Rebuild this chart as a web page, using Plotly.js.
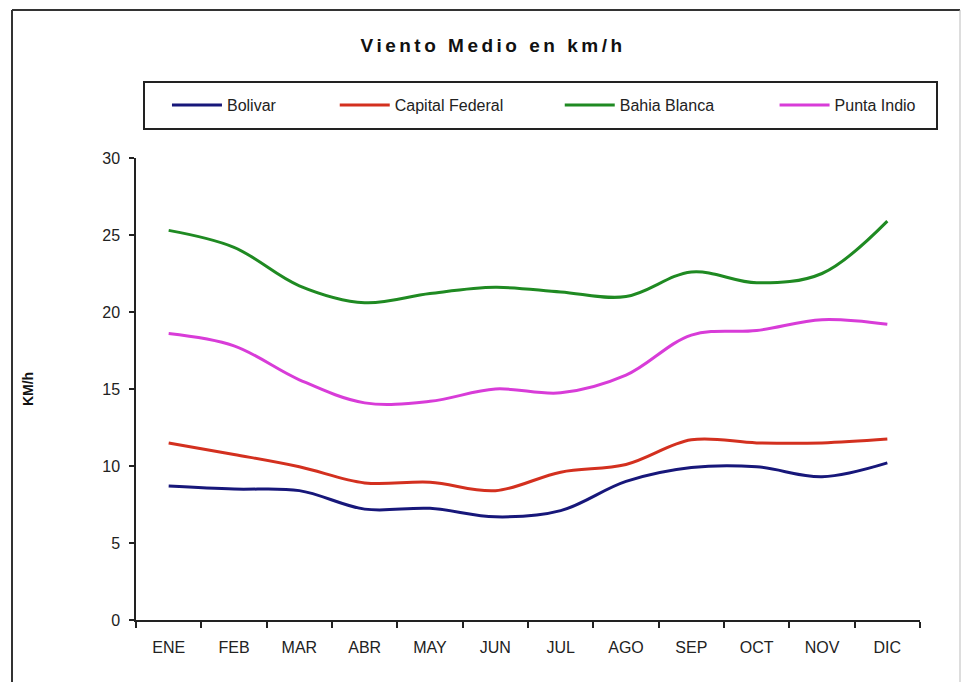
<!DOCTYPE html>
<html>
<head>
<meta charset="utf-8">
<script src="https://cdn.plot.ly/plotly-3.0.1.min.js"></script>
<style>
  html, body { margin: 0; padding: 0; background: #fff; }
  #chart { width: 963px; height: 682px; }
  .gtitle { letter-spacing: 3.5px; }
</style>
</head>
<body>
<div id="chart"></div>
<script>
// ---- data ----
const months = ["ENE", "FEB", "MAR", "ABR", "MAY", "JUN", "JUL", "AGO", "SEP", "OCT", "NOV", "DIC"];
const bolivar        = [8.7, 8.5, 8.4, 7.2, 7.25, 6.7, 7.1, 9.0, 9.9, 9.95, 9.3, 10.2];
const capitalFederal = [11.5, 10.75, 9.95, 8.9, 8.95, 8.4, 9.6, 10.1, 11.7, 11.5, 11.5, 11.75];
const bahiaBlanca    = [25.3, 24.2, 21.7, 20.6, 21.2, 21.6, 21.3, 21.0, 22.6, 21.9, 22.5, 25.9];
const puntaIndio     = [18.6, 17.8, 15.6, 14.1, 14.2, 15.0, 14.75, 15.9, 18.5, 18.8, 19.5, 19.2];
const seriesNames  = ["Bolivar", "Capital Federal", "Bahia Blanca", "Punta Indio"];
const seriesColors = ["#17177a", "#d3301f", "#1f8a22", "#d83cd8"];

const seriesData = [bolivar, capitalFederal, bahiaBlanca, puntaIndio];
const legendIds = ["legend", "legend2", "legend3", "legend4"];

const traces = seriesData.map((vals, i) => ({
  type: "scatter",
  mode: "lines",
  x: months,
  y: vals,
  name: seriesNames[i],
  legend: legendIds[i],
  line: { color: seriesColors[i], width: 3, shape: "spline", smoothing: 1 },
  hoverinfo: "x+y+name"
}));

const FONT = "Liberation Sans, Arial, sans-serif";
const legendXs = [0.0395, 0.2535, 0.5405, 0.8145];
const legendFont = { family: FONT, size: 16, color: "#222" };

const layout = {
  width: 963,
  height: 682,
  margin: { l: 136, r: 43, t: 158, b: 62 },
  paper_bgcolor: "#ffffff",
  plot_bgcolor: "#ffffff",
  title: {
    text: "<b>Viento Medio en km/h</b>",
    font: { family: FONT, size: 19, color: "#111" },
    x: 0.512, xref: "container", xanchor: "center",
    y: 0.934, yref: "container", yanchor: "middle"
  },
  xaxis: {
    type: "category",
    range: [-0.5, 11.5],
    showgrid: false,
    zeroline: false,
    showline: true,
    linecolor: "#222",
    linewidth: 1.5,
    ticks: "outside",
    tickson: "boundaries",
    ticklen: 6,
    tickcolor: "#222",
    tickwidth: 1.5,
    ticklabelstandoff: 12,
    tickfont: { family: FONT, size: 16, color: "#222" },
    fixedrange: true
  },
  yaxis: {
    range: [0, 30],
    dtick: 5,
    tick0: 0,
    showgrid: false,
    zeroline: false,
    showline: true,
    linecolor: "#222",
    linewidth: 1.5,
    ticks: "outside",
    ticklen: 5,
    tickcolor: "#222",
    tickwidth: 1.5,
    ticklabelstandoff: 6,
    tickfont: { family: FONT, size: 16, color: "#222" },
    title: {
      text: "<b>KM/h</b>",
      font: { family: FONT, size: 14, color: "#111" },
      standoff: 65
    },
    automargin: false,
    fixedrange: true
  },
  shapes: [
    // outer frame: top, left (dark), right (light)
    { type: "line", xref: "paper", yref: "paper",
      x0: (12 - 136) / 784, x1: (960 - 136) / 784,
      y0: (620 - 10) / 462, y1: (620 - 10) / 462,
      line: { color: "#333", width: 2 }, layer: "below" },
    { type: "line", xref: "paper", yref: "paper",
      x0: (12 - 136) / 784, x1: (12 - 136) / 784,
      y0: (620 - 10) / 462, y1: (620 - 700) / 462,
      line: { color: "#333", width: 2 }, layer: "below" },
    { type: "line", xref: "paper", yref: "paper",
      x0: (960 - 136) / 784, x1: (960 - 136) / 784,
      y0: (620 - 10) / 462, y1: (620 - 700) / 462,
      line: { color: "#bbb", width: 1 }, layer: "below" },
    // legend box
    { type: "rect", xref: "paper", yref: "paper",
      x0: (144 - 136) / 784, x1: (937 - 136) / 784,
      y0: (620 - 129) / 462, y1: (620 - 82) / 462,
      line: { color: "#222", width: 2 }, fillcolor: "rgba(0,0,0,0)", layer: "below" }
  ],
  showlegend: true
};

legendIds.forEach((id, i) => {
  layout[id] = {
    x: legendXs[i], xref: "paper", xanchor: "left",
    y: (620 - 105) / 462, yref: "paper", yanchor: "middle",
    orientation: "h",
    bgcolor: "rgba(0,0,0,0)",
    borderwidth: 0,
    itemwidth: 50,
    font: legendFont,
    itemclick: false, itemdoubleclick: false
  };
});

Plotly.newPlot("chart", traces, layout, { displayModeBar: false, responsive: false });
</script>
</body>
</html>
